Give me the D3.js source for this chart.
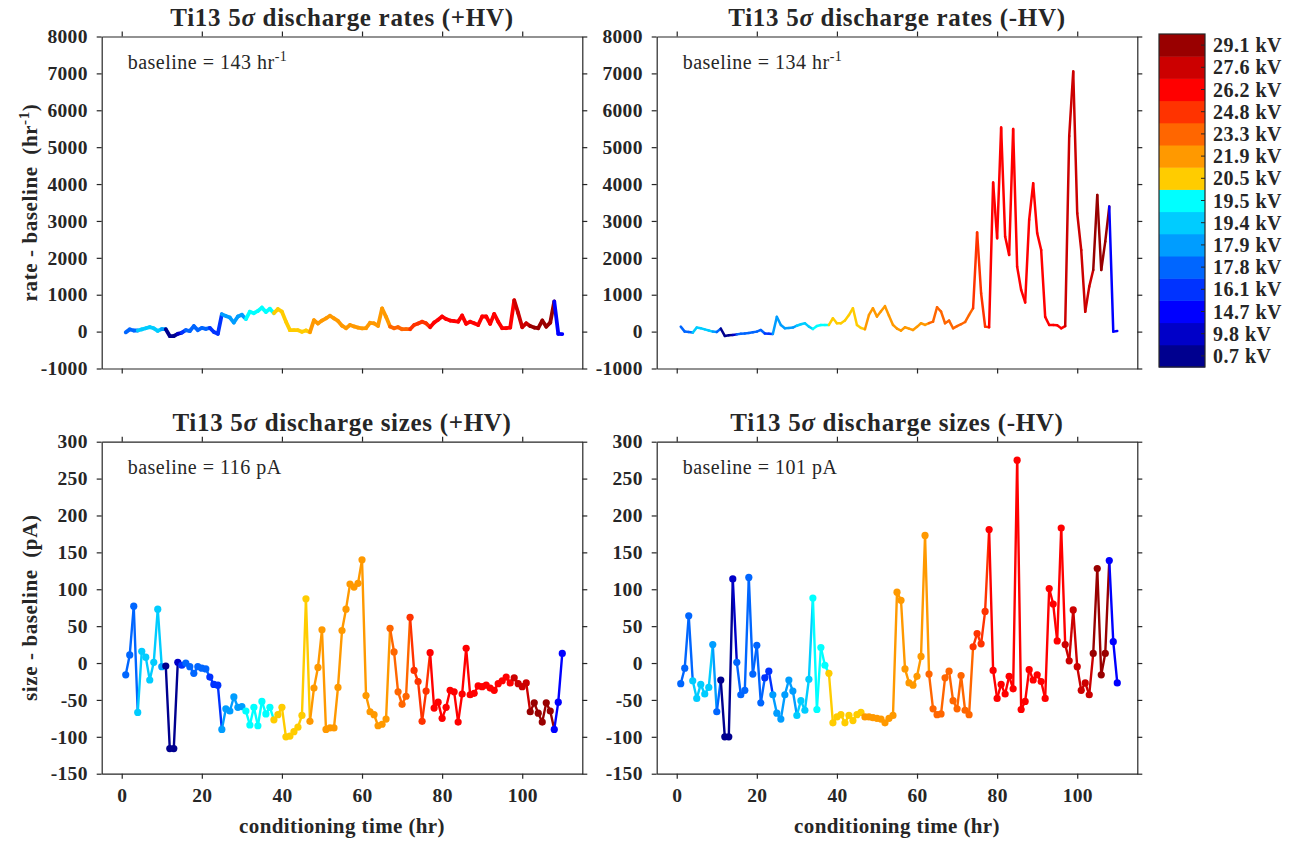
<!DOCTYPE html>
<html>
<head>
<meta charset="utf-8">
<script src="https://cdn.jsdelivr.net/npm/d3@7"></script>
<style>
  body { margin: 0; background: #fff; }
  svg text { font-family: "Palatino Linotype", "Book Antiqua", Palatino, "Liberation Serif", serif; fill: #262626; white-space: pre; }
</style>
</head>
<body>
<svg id="chart" width="1299" height="841"></svg>
<script>
// conditioning hour of each measurement
var hours = [1,2,3,4,5,6,7,8,9,10,11,12,13,14,15,16,17,18,19,20,21,22,23,24,25,26,27,28,29,30,
  31,32,33,34,35,36,37,38,39,40,41,42,43,44,45,46,47,48,49,50,51,52,53,54,55,56,57,58,59,60,
  61,62,63,64,65,66,67,68,69,70,71,72,73,74,75,76,77,78,79,80,81,82,83,84,85,86,87,88,89,90,
  91,92,93,94,95,96,97,98,99,100,101,102,103,104,105,106,107,108,109,110];

// rate - baseline (hr^-1)
var ratePos = [-20,60,30,30,60,90,120,90,20,70, 65,-120,-120,-60,-30,40,15,150,40,100,
  75,100,-10,-60,470,425,380,245,410,455, 340,540,500,560,650,530,620,500,610,540,
  270,40,40,40,-5,30,-15,310,220,300, 360,430,360,290,160,92,180,140,110,90,
  92,240,225,155,630,400,140,90,120,65, 65,65,180,220,270,225,120,245,320,410,
  340,300,285,270,435,210,270,225,180,410, 410,210,480,270,92,92,110,850,500,120,
  225,150,110,92,300,135,245,820,-60,-70];
var rateNeg = [135,0,-10,-27,110,90,60,30,0,-10, 80,-117,-100,-90,-75,-60,-50,-35,-20,0,
  45,-50,-55,-65,400,180,90,100,110,160, 200,225,135,70,150,180,180,180,362,225,
  225,300,450,634,180,100,65,452,634,407, 550,690,430,182,80,27,117,80,45,130,
  227,180,230,271,660,542,227,298,90,150, 200,260,452,634,2690,1040,135,117,4040,2530,
  5530,2580,2080,5490,1760,1130,790,3030,4020,2670, 2210,400,180,180,170,90,150,5300,7050,3210,
  2210,540,1220,1670,3700,1670,2440,3390,0,18];

// size - baseline (pA)
var sizePos = [-16,11,77,-67,16,8,-23,1,73,-5, -4,-116,-116,1,-3,0,-5,-14,-5,-7,
  -8,-19,-29,-30,-90,-62,-65,-46,-60,-59, -65,-84,-60,-85,-52,-69,-60,-77,-70,-60,
  -100,-99,-93,-87,-71,87,-79,-34,-6,45, -90,-88,-88,-33,44,73,107,103,108,140,
  -44,-66,-70,-85,-83,-76,47,15,-39,-56, -45,62,-10,-25,-79,-38,14,-61,-53,-75,
  -60,-37,-39,-80,-42,20,-43,-41,-31,-32, -30,-34,-37,-28,-24,-19,-27,-20,-28,-32,
  -27,-66,-54,-68,-80,-54,-65,-90,-53,13];
var sizeNeg = [-28,-7,64,-24,-48,-29,-42,-33,25,-66, -23,-100,-100,114,1,-43,-37,116,-15,24,
  -54,-20,-11,-43,-68,-76,-43,-23,-38,-71, -51,-64,-22,88,-63,21,-3,-14,-81,-73,
  -70,-81,-71,-78,-70,-67,-73,-73,-74,-75, -76,-81,-75,-71,96,85,-8,-27,-30,-18,
  9,173,-15,-62,-70,-69,-20,-11,-51,-62, -17,-64,-70,22,40,26,70,181,-10,-48,
  -29,-42,-18,-35,275,-63,-52,-9,-23,-16, -25,-48,101,80,30,183,25,3,72,-5,
  -37,-27,-43,13,128,-16,13,139,29,-27];

// supply voltage steps: [first hour, kV]
var stepsPos = [[1,'17.8'],[4,'19.4'],[10,'17.9'],[11,'0.7'],[14,'9.8'],[15,'16.1'],[16,'17.8'],
  [22,'16.1'],[25,'17.9'],[31,'19.5'],[38,'20.5'],[47,'21.9'],[67,'23.3'],[72,'24.8'],
  [77,'26.2'],[98,'27.6'],[102,'29.1'],[108,'14.7']];
var stepsNeg = [[1,'17.8'],[4,'19.4'],[9,'17.9'],[10,'17.8'],[11,'0.7'],[14,'9.8'],[15,'17.8'],
  [22,'16.1'],[24,'17.9'],[30,'19.4'],[34,'19.5'],[38,'20.5'],[47,'21.9'],[63,'23.3'],
  [74,'24.8'],[78,'26.2'],[97,'27.6'],[104,'29.1'],[108,'14.7']];

var kvLevels = ['0.7','9.8','14.7','16.1','17.8','17.9','19.4','19.5','20.5','21.9','23.3','24.8','26.2','27.6','29.1'];
var kvColors = ['#00008f','#0000c8','#0000ff','#0033ff','#0066ff','#009dff','#00ccff','#00ffff',
  '#ffcc00','#ff9900','#ff6600','#ff3300','#ff0000','#cc0000','#990000'];

var xTicks = [0,20,40,60,80,100];
var rateTicks = [-1000,0,1000,2000,3000,4000,5000,6000,7000,8000];
var sizeTicks = [-150,-100,-50,0,50,100,150,200,250,300];

var ink = '#262626';
var svg = d3.select('#chart');
var color = d3.scaleOrdinal().domain(kvLevels).range(kvColors);

function levelAt(steps, h) {
  var lv = steps[0][1];
  steps.forEach(function(s) { if (h >= s[0]) lv = s[1]; });
  return lv;
}

function panel(cfg) {
  var x = d3.scaleLinear().domain([-5, 115]).range(cfg.xr);
  var y = d3.scaleLinear().domain(cfg.yDomain).range([cfg.yr[1], cfg.yr[0]]);
  var g = svg.append('g');
  var fmt = function(d) { return String(d); };
  var none = function() { return ''; };

  var axes = [
    [d3.axisBottom(x).tickValues(xTicks).tickFormat(cfg.xLabels ? fmt : none), 0, cfg.yr[1]],
    [d3.axisTop(x).tickValues(xTicks).tickFormat(none), 0, cfg.yr[0]],
    [d3.axisLeft(y).tickValues(cfg.yTicks).tickFormat(fmt), cfg.xr[0], 0],
    [d3.axisRight(y).tickValues(cfg.yTicks).tickFormat(none), cfg.xr[1], 0]
  ];
  axes.forEach(function(a) {
    var ax = g.append('g')
      .attr('transform', 'translate(' + a[1] + ',' + a[2] + ')')
      .call(a[0].tickSize(5).tickSizeOuter(0).tickPadding(9));
    ax.selectAll('path, line').attr('stroke', ink).attr('stroke-width', 1.2);
    ax.selectAll('text').attr('font-size', 19.5).attr('font-weight', 'bold')
      .attr('font-family', null).style('fill', ink).style('letter-spacing', '0.3px');
  });

  var pts = hours.map(function(h, i) {
    return { h: h, v: cfg.values[i], kv: levelAt(cfg.steps, h) };
  });

  g.append('g').selectAll('line')
    .data(d3.pairs(pts))
    .enter().append('line')
    .attr('x1', function(d) { return x(d[0].h); })
    .attr('y1', function(d) { return y(d[0].v); })
    .attr('x2', function(d) { return x(d[1].h); })
    .attr('y2', function(d) { return y(d[1].v); })
    .attr('stroke', function(d) { return color(d[0].kv); })
    .attr('stroke-width', cfg.lineWidth)
    .attr('stroke-linecap', 'round');

  if (cfg.dots) {
    g.append('g').selectAll('circle')
      .data(pts)
      .enter().append('circle')
      .attr('cx', function(d) { return x(d.h); })
      .attr('cy', function(d) { return y(d.v); })
      .attr('r', 3.6)
      .attr('fill', function(d) { return color(d.kv); });
  }

  // title
  var t = g.append('text')
    .attr('x', (cfg.xr[0] + cfg.xr[1]) / 2)
    .attr('y', cfg.yr[0] - 11)
    .attr('text-anchor', 'middle')
    .attr('font-size', 25).attr('font-weight', 'bold')
    .style('letter-spacing', '0.7px');
  t.append('tspan').text('Ti13 5');
  t.append('tspan').attr('font-style', 'italic').text('\u03c3');
  t.append('tspan').text(' discharge ' + cfg.what + ' (' + cfg.pol + 'HV)');

  // baseline note
  var b = g.append('text')
    .attr('x', cfg.xr[0] + 26)
    .attr('y', cfg.yr[0] + 32)
    .attr('font-size', 20)
    .style('letter-spacing', '0.5px');
  b.append('tspan').text('baseline = ' + cfg.baseline + ' ' + cfg.unit);
  if (cfg.sup) b.append('tspan').attr('dy', -8).attr('font-size', 14).text(cfg.sup);

  if (cfg.yLabel) {
    var yl = g.append('text')
      .attr('transform', 'translate(37,' + (cfg.yr[0] + cfg.yr[1]) / 2 + ') rotate(-90)')
      .attr('text-anchor', 'middle')
      .attr('font-size', 21).attr('font-weight', 'bold')
      .style('letter-spacing', '0.6px');
    yl.append('tspan').text(cfg.yLabel);
    if (cfg.sup) {
      yl.append('tspan').attr('dy', -8).attr('font-size', 15).text(cfg.sup);
      yl.append('tspan').attr('dy', 8).text(')');
    }
  }
  if (cfg.xLabels) {
    g.append('text')
      .attr('x', (cfg.xr[0] + cfg.xr[1]) / 2)
      .attr('y', cfg.yr[1] + 59)
      .attr('text-anchor', 'middle')
      .attr('font-size', 21).attr('font-weight', 'bold')
      .style('letter-spacing', '0.4px')
      .text('conditioning time (hr)');
  }
}

var colL = [101.7, 582.3], colR = [656.7, 1137.3];
var rowT = [36.5, 368.5], rowB = [441.7, 773.7];

panel({ xr: colL, yr: rowT, yDomain: [-1000, 8000], yTicks: rateTicks, values: ratePos, steps: stepsPos,
  lineWidth: 3.8, what: 'rates', pol: '+', baseline: 143, unit: 'hr', sup: '-1',
  yLabel: 'rate - baseline  (hr' });
panel({ xr: colR, yr: rowT, yDomain: [-1000, 8000], yTicks: rateTicks, values: rateNeg, steps: stepsNeg,
  lineWidth: 2.5, what: 'rates', pol: '-', baseline: 134, unit: 'hr', sup: '-1' });
panel({ xr: colL, yr: rowB, yDomain: [-150, 300], yTicks: sizeTicks, values: sizePos, steps: stepsPos,
  lineWidth: 2.4, dots: true, what: 'sizes', pol: '+', baseline: 116, unit: 'pA',
  yLabel: 'size - baseline  (pA)', xLabels: true });
panel({ xr: colR, yr: rowB, yDomain: [-150, 300], yTicks: sizeTicks, values: sizeNeg, steps: stepsNeg,
  lineWidth: 2.4, dots: true, what: 'sizes', pol: '-', baseline: 101, unit: 'pA', xLabels: true });

// colour bar
var cb = svg.append('g');
var band = d3.scaleBand().domain(kvLevels.slice().reverse()).range([34, 367]);
cb.selectAll('rect.cell')
  .data(kvLevels)
  .enter().append('rect')
  .attr('class', 'cell')
  .attr('x', 1159).attr('width', 46)
  .attr('y', function(d) { return band(d); })
  .attr('height', band.bandwidth() + 0.5)
  .attr('fill', function(d) { return color(d); });
cb.append('rect')
  .attr('x', 1159).attr('y', 34).attr('width', 46).attr('height', 333)
  .attr('fill', 'none').attr('stroke', ink).attr('stroke-width', 1.2);
cb.selectAll('line.tk')
  .data(kvLevels)
  .enter().append('line')
  .attr('class', 'tk')
  .attr('x1', 1201).attr('x2', 1205)
  .attr('y1', function(d) { return band(d) + band.bandwidth() / 2; })
  .attr('y2', function(d) { return band(d) + band.bandwidth() / 2; })
  .attr('stroke', ink);
cb.selectAll('text')
  .data(kvLevels)
  .enter().append('text')
  .attr('x', 1213)
  .attr('y', function(d) { return band(d) + band.bandwidth() / 2; })
  .attr('dy', '0.35em')
  .attr('font-size', 20).attr('font-weight', 'bold')
  .style('letter-spacing', '0.5px')
  .text(function(d) { return d + ' kV'; });
</script>
</body>
</html>
